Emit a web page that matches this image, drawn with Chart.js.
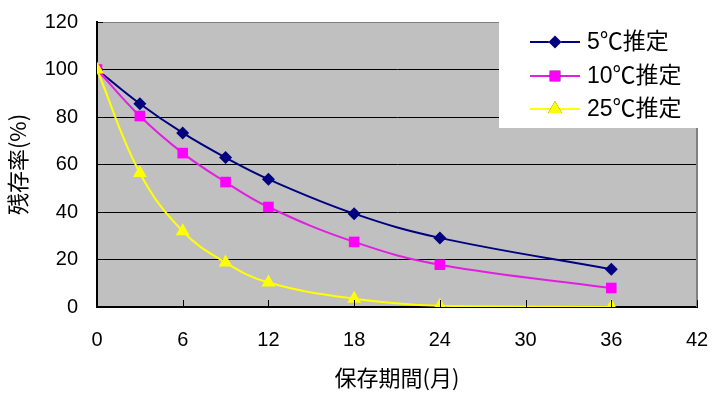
<!DOCTYPE html>
<html>
<head>
<meta charset="utf-8">
<script src="https://cdn.jsdelivr.net/npm/chart.js@4.4.1/dist/chart.umd.min.js"></script>
<style>
  html, body { margin: 0; padding: 0; background: #ffffff; }
  #wrap { width: 716px; height: 397px; position: relative; }
</style>
</head>
<body>
<div id="wrap"><canvas id="c" width="716" height="397"></canvas></div>
<script>
const months = [0, 3, 6, 9, 12, 18, 24, 36];
const seriesLabels = ['5℃推定', '10℃推定', '25℃推定'];
const s5 = [100, 85.6, 73.3, 62.9, 53.8, 39.3, 29.1, 15.9];
const s10 = [100, 80.4, 64.8, 52.6, 42.1, 27.4, 17.8, 8.0];
const s25 = [100, 56.4, 31.9, 18.7, 10.3, 3.5, 0.5, 0];
const xTicks = [0, 6, 12, 18, 24, 30, 36, 42];
const yTicks = [0, 20, 40, 60, 80, 100, 120];
const xTitle = '保存期間(月)';
const yTitle = '残存率(%)';

const FONT = '"Liberation Sans", "Noto Sans CJK JP", sans-serif';
const CJKFONT = '"Noto Sans CJK JP", "Liberation Sans", sans-serif';

function pts(vals) { return months.map((m, i) => ({ x: m, y: vals[i] })); }

const styles = [
  { line: '#000080', fill: '#000080', shape: 'rectRot', r: 6.5 },
  { line: '#e020e0', fill: '#ff00ff', shape: 'rect', r: 7.5 },
  { line: '#ffff00', fill: '#ffff00', shape: 'triangle', r: 8 }
];

const seriesValues = [s5, s10, s25];
const datasets = seriesValues.map((v, i) => ({
  label: seriesLabels[i],
  data: pts(v),
  borderColor: styles[i].line,
  backgroundColor: styles[i].fill,
  pointBackgroundColor: styles[i].fill,
  pointBorderColor: styles[i].fill,
  pointStyle: styles[i].shape,
  pointRadius: styles[i].r,
  pointBorderWidth: 0,
  borderWidth: 2,
  tension: 0.4,
  fill: false,
  order: 3 - i
}));

const bgPlugin = {
  id: 'bg',
  beforeDraw(chart) {
    const { ctx, chartArea: a } = chart;
    ctx.save();
    ctx.fillStyle = '#c0c0c0';
    ctx.fillRect(a.left, a.top, a.right - a.left, a.bottom - a.top);
    ctx.restore();
  },
  afterDatasetsDraw(chart) {
    const { ctx, chartArea: a } = chart;
    const xs = chart.scales.x;
    ctx.save();
    ctx.strokeStyle = '#808080';
    ctx.lineWidth = 2;
    ctx.beginPath();
    ctx.moveTo(a.right, a.top);
    ctx.lineTo(a.right, a.bottom);
    ctx.stroke();
    ctx.lineWidth = 1;
    ctx.beginPath();
    ctx.moveTo(a.left, Math.round(a.top) + 0.5);
    ctx.lineTo(a.right, Math.round(a.top) + 0.5);
    ctx.stroke();
    ctx.strokeStyle = '#000000';
    ctx.lineWidth = 1;
    xTicks.forEach(t => {
      if (t === 0) return;
      const px = Math.round(xs.getPixelForValue(t)) + 0.5;
      ctx.beginPath();
      ctx.moveTo(px, a.bottom);
      ctx.lineTo(px, a.bottom - 7);
      ctx.stroke();
    });
    ctx.beginPath();
    ctx.moveTo(a.left, Math.round(a.top) + 0.5);
    ctx.lineTo(a.left + 6, Math.round(a.top) + 0.5);
    ctx.stroke();
    ctx.restore();
  },
  afterDraw(chart) {
    const { ctx } = chart;
    ctx.save();
    ctx.fillStyle = '#ffffff';
    ctx.fillRect(499, 4, 210, 124);
    const rows = [42, 76, 109];
    chart.data.datasets.forEach((ds, i) => {
      const y = rows[i];
      ctx.strokeStyle = ds.borderColor;
      ctx.lineWidth = 2;
      ctx.beginPath();
      ctx.moveTo(530, y);
      ctx.lineTo(580, y);
      ctx.stroke();
      Chart.helpers.drawPoint(ctx, {
        pointStyle: ds.pointStyle,
        radius: ds.pointRadius,
        rotation: 0,
        borderWidth: 0
      }, 555, y);
      ctx.fillStyle = ds.pointBackgroundColor;
      ctx.fill();
      ctx.fillStyle = '#000000';
      ctx.font = '23px ' + FONT;
      ctx.textBaseline = 'middle';
      ctx.textAlign = 'left';
      ctx.fillText(ds.label, 587, y + 1);
    });
    ctx.restore();
  }
};

new Chart(document.getElementById('c'), {
  type: 'line',
  data: { datasets },
  options: {
    responsive: false,
    animation: false,
    devicePixelRatio: 1,
    layout: { padding: { top: 22, right: 19, left: 0, bottom: 0 } },
    plugins: {
      legend: { display: false },
      tooltip: { enabled: false }
    },
    scales: {
      x: {
        type: 'linear',
        min: 0,
        max: 42,
        afterBuildTicks(scale) { scale.ticks = xTicks.map(v => ({ value: v })); },
        afterFit(scale) {
          scale.height = 90;
          scale.paddingLeft = 0;
          scale.paddingRight = 0;
        },
        ticks: {
          color: '#000000',
          font: { size: 20, family: FONT },
          padding: 21,
          maxRotation: 0,
          autoSkip: false
        },
        grid: { display: false, drawTicks: false },
        border: { display: true, color: '#000000', width: 2 },
        title: {
          display: true,
          text: xTitle,
          color: '#000000',
          font: { size: 22, family: CJKFONT },
          padding: { top: 0, bottom: 6 }
        }
      },
      y: {
        type: 'linear',
        min: 0,
        max: 120,
        afterBuildTicks(scale) { scale.ticks = yTicks.map(v => ({ value: v })); },
        afterFit(scale) {
          scale.width = 97;
          scale.paddingTop = 0;
          scale.paddingBottom = 0;
        },
        ticks: {
          color: '#000000',
          font: { size: 20, family: FONT },
          padding: 19
        },
        grid: { color: '#000000', lineWidth: 1, drawTicks: false },
        border: { display: true, color: '#000000', width: 2 },
        title: {
          display: true,
          text: yTitle,
          color: '#000000',
          font: { size: 22, family: CJKFONT },
          padding: { top: 4, bottom: 0 }
        }
      }
    }
  },
  plugins: [bgPlugin]
});
</script>
</body>
</html>
